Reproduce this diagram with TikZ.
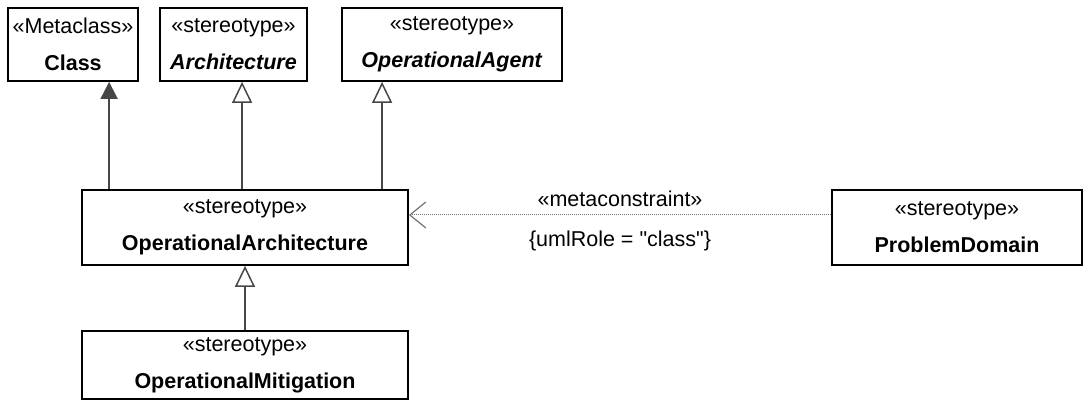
\documentclass[tikz,border=0pt]{standalone}
\usepackage{fontspec}
\setmainfont{Liberation Sans}
\usetikzlibrary{arrows.meta,positioning}

\begin{document}
\begin{tikzpicture}[x=1pt,y=-1pt,
  cls/.style={draw,line width=1.8pt,align=center,inner sep=0pt,
    font=\fontsize{21.5}{37}\selectfont},
  gen/.style={draw=black!72,line width=1.8pt,
    -{Triangle[open,length=21pt,width=20pt,line width=1.5pt]}},
  genfill/.style={draw=black!72,line width=1.8pt,
    -{Triangle[length=17pt,width=17pt,fill=black!72]}},
  meta/.style={draw=black!55,line width=1pt,densely dotted,
    -{Straight Barb[length=16pt,width=26pt,line width=1.2pt]}},
  lbl/.style={font=\fontsize{21.5}{24}\selectfont}]
  \useasboundingbox (0,0) rectangle (1091,403);
  % top row
  \node[cls,minimum width=130,minimum height=73] (class) at (73,44.5)
    {«Metaclass»\\\textbf{Class}};
  \node[cls,minimum width=147,minimum height=73] (arch) at (233.5,44.5)
    {«stereotype»\\\textbf{\itshape Architecture}};
  \node[cls,minimum width=220,minimum height=73] (agent) at (452,44.5)
    {«stereotype»\\\textbf{\itshape OperationalAgent}};
  % middle row
  \node[cls,minimum width=326,minimum height=75] (oparch) at (245,227.5)
    {«stereotype»\\\textbf{OperationalArchitecture}};
  \node[cls,minimum width=250,minimum height=75] (probdom) at (957,227.5)
    {«stereotype»\\\textbf{ProblemDomain}};
  % bottom
  \node[cls,minimum width=326,minimum height=68] (opmit) at (245,365)
    {«stereotype»\\\textbf{OperationalMitigation}};
  % generalizations
  \coordinate (g1) at ([xshift=28pt]oparch.north west);
  \coordinate (g2) at ([xshift=161pt]oparch.north west);
  \coordinate (g3) at ([xshift=301pt]oparch.north west);
  \draw[genfill] (g1) -- (g1 |- class.south);
  \draw[gen] (g2) -- (g2 |- arch.south);
  \draw[gen] (g3) -- (g3 |- agent.south);
  \draw[gen] (opmit) -- (oparch);
  % metaconstraint
  \coordinate (m1) at ([yshift=12.5pt]probdom.west);
  \draw[meta] (m1) -- (m1 -| oparch.east)
    node[lbl,midway,above=4pt] {«metaconstraint»}
    node[lbl,midway,below=12pt] {\{umlRole = \textquotedbl class\textquotedbl\}};
\end{tikzpicture}
\end{document}
